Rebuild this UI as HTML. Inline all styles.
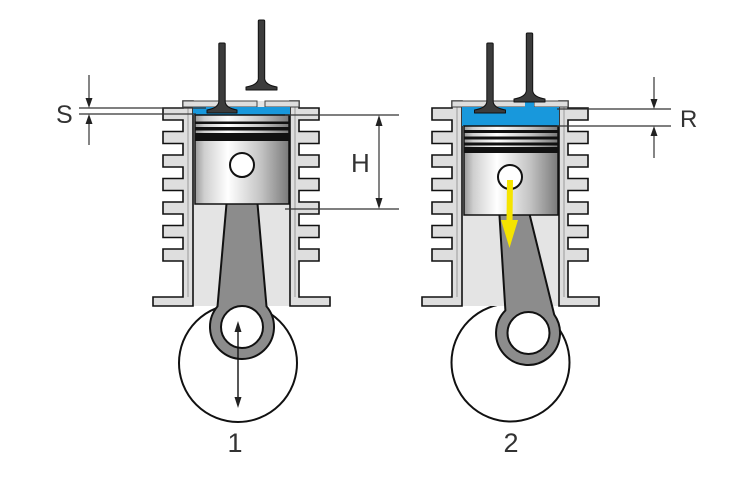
<!DOCTYPE html>
<html><head><meta charset="utf-8"><style>
html,body{margin:0;padding:0;background:#fff;}
svg{display:block}
text{font-family:"Liberation Sans",sans-serif;fill:#333;}
</style></head><body>
<svg width="755" height="488" viewBox="0 0 755 488" xmlns="http://www.w3.org/2000/svg">
<defs>
<linearGradient id="pg" x1="0" y1="0" x2="1" y2="0">
<stop offset="0" stop-color="#9a9a9a"/>
<stop offset="0.1" stop-color="#cfcfcf"/>
<stop offset="0.35" stop-color="#ffffff"/>
<stop offset="0.7" stop-color="#c4c4c4"/>
<stop offset="1" stop-color="#7a7a7a"/>
</linearGradient>
<g id="blk">
  <rect x="193" y="101" width="97" height="205" fill="#e4e4e4"/>
  <polygon fill="#dedede" stroke="#111" stroke-width="1.6" stroke-linejoin="miter" points="193,101 183,101 183,108 163,108 163,120 183,120 183,131.5 163,131.5 163,143.5 183,143.5 183,155 163,155 163,167 183,167 183,178.5 163,178.5 163,190.5 183,190.5 183,202 163,202 163,214 183,214 183,225.5 163,225.5 163,237.5 183,237.5 183,249 163,249 163,261 183,261 183,297 153,297 153,306 193,306"/>
  <polygon fill="#dedede" stroke="#111" stroke-width="1.6" stroke-linejoin="miter" points="290,101 299,101 299,108 319,108 319,120 299,120 299,131.5 319,131.5 319,143.5 299,143.5 299,155 319,155 319,167 299,167 299,178.5 319,178.5 319,190.5 299,190.5 299,202 319,202 319,214 299,214 299,225.5 319,225.5 319,237.5 299,237.5 299,249 319,249 319,261 299,261 299,297 330,297 330,306 290,306"/>
  <line x1="188" y1="107" x2="188" y2="297" stroke="#888" stroke-width="0.8"/>
  <line x1="295" y1="107" x2="295" y2="297" stroke="#888" stroke-width="0.8"/>
  <rect x="183" y="101" width="74" height="6" fill="#dedede" stroke="#444" stroke-width="1"/>
  <rect x="265" y="101" width="34" height="6" fill="#dedede" stroke="#444" stroke-width="1"/>
</g>
</defs>

<!-- Crank circles -->
<circle cx="238" cy="363" r="59" fill="#fff" stroke="#111" stroke-width="2"/>
<circle cx="510.5" cy="362.5" r="59" fill="#fff" stroke="#111" stroke-width="2"/>

<!-- Blocks -->
<use href="#blk"/>
<use href="#blk" transform="translate(269,0)"/>

<!-- Blue chambers -->
<rect x="193" y="107" width="97" height="8" fill="#1898dc"/>
<rect x="462" y="107" width="97" height="19" fill="#1898dc"/>
<rect x="525" y="102.5" width="9" height="5" fill="#1898dc"/>

<!-- Conrod 1 -->
<path d="M227,198 L257,198 L266.5,306.4 A32,32 0 1 1 217.5,306.4 Z" fill="#8c8c8c" stroke="#111" stroke-width="2" stroke-linejoin="round"/>
<circle cx="242" cy="327" r="21" fill="#fff" stroke="#111" stroke-width="2"/>

<!-- Conrod 2 -->
<path d="M499,208 L528,208 L554.2,314.6 A32,32 0 1 1 505.4,310.4 Z" fill="#8c8c8c" stroke="#111" stroke-width="2" stroke-linejoin="round"/>
<circle cx="528.5" cy="333" r="21" fill="#fff" stroke="#111" stroke-width="2"/>

<!-- Piston 1 -->
<rect x="195" y="115" width="94" height="89" fill="url(#pg)" stroke="#111" stroke-width="1.5"/>
<rect x="195" y="121.5" width="94" height="2.5" fill="#111"/>
<rect x="195" y="127" width="94" height="3.5" fill="#111"/>
<rect x="195" y="133" width="94" height="8" fill="#111"/>
<circle cx="242" cy="165" r="12" fill="#fff" stroke="#111" stroke-width="2"/>

<!-- Piston 2 -->
<rect x="464" y="126" width="94" height="89" fill="url(#pg)" stroke="#111" stroke-width="1.5"/>
<rect x="464" y="130" width="94" height="3" fill="#111"/>
<rect x="464" y="136.5" width="94" height="3" fill="#111"/>
<rect x="464" y="142.5" width="94" height="3" fill="#111"/>
<rect x="464" y="147" width="94" height="6" fill="#111"/>
<circle cx="510" cy="177" r="12" fill="#fff" stroke="#111" stroke-width="2"/>

<!-- Valves -->
<g fill="#3c3c3c" stroke="#111" stroke-width="1" stroke-linejoin="round">
<path d="M218.8 44 Q218.8 43 220 43 L224 43 Q225.2 43 225.2 44 L225.2 102 Q226 108 237 110 L237 113 L207 113 L207 110 Q218 108 218.8 102 Z"/>
<path d="M258.3 21 Q258.3 20 259.5 20 L263.5 20 Q264.7 20 264.7 21 L264.7 79 Q265.5 85 277 87 L277 90 L246 90 L246 87 Q257.5 85 258.3 79 Z"/>
<path d="M486.8 44 Q486.8 43 488 43 L492 43 Q493.2 43 493.2 44 L493.2 102 Q494 108 505.5 110 L505.5 113 L474.5 113 L474.5 110 Q486 108 486.8 102 Z"/>
<path d="M526.3 34 Q526.3 33 527.5 33 L531.5 33 Q532.7 33 532.7 34 L532.7 91 Q533.5 97 545 99 L545 102 L514 102 L514 99 Q525.5 97 526.3 91 Z"/>
</g>

<!-- Yellow arrow -->
<polygon points="507,180 513,180 512.5,222 506.5,222" fill="#f5e400"/>
<polygon points="501,220 518,220 509.5,248" fill="#f5e400"/>

<!-- Dimension lines -->
<g stroke="#333" stroke-width="1.2">
<line x1="79" y1="108" x2="206" y2="108"/>
<line x1="79" y1="114" x2="196" y2="114"/>
<line x1="89" y1="75" x2="89" y2="100"/>
<line x1="89" y1="122" x2="89" y2="145"/>
<line x1="285" y1="115" x2="399" y2="115"/>
<line x1="285" y1="209" x2="399" y2="209"/>
<line x1="379" y1="124" x2="379" y2="200"/>
<line x1="557" y1="109" x2="671" y2="109"/>
<line x1="557" y1="126" x2="671" y2="126"/>
<line x1="654" y1="77" x2="654" y2="100"/>
<line x1="654" y1="135" x2="654" y2="158"/>
<line x1="238" y1="330" x2="238" y2="399" stroke="#111" stroke-width="1.4"/>
</g>
<g fill="#222">
<polygon points="85.5,98 92.5,98 89,108"/>
<polygon points="85.5,124 92.5,124 89,114"/>
<polygon points="375.5,126 382.5,126 379,115"/>
<polygon points="375.5,198 382.5,198 379,209"/>
<polygon points="650.5,99 657.5,99 654,109"/>
<polygon points="650.5,136 657.5,136 654,126"/>
<polygon points="234.5,332 241.5,332 238,321"/>
<polygon points="234.5,397 241.5,397 238,408"/>
</g>

<!-- Labels -->
<text x="56" y="123" font-size="25">S</text>
<text x="351" y="172" font-size="26">H</text>
<text x="680" y="127" font-size="24">R</text>
<text x="235" y="452" font-size="27" text-anchor="middle">1</text>
<text x="511" y="452" font-size="27" text-anchor="middle">2</text>
</svg>
</body></html>
